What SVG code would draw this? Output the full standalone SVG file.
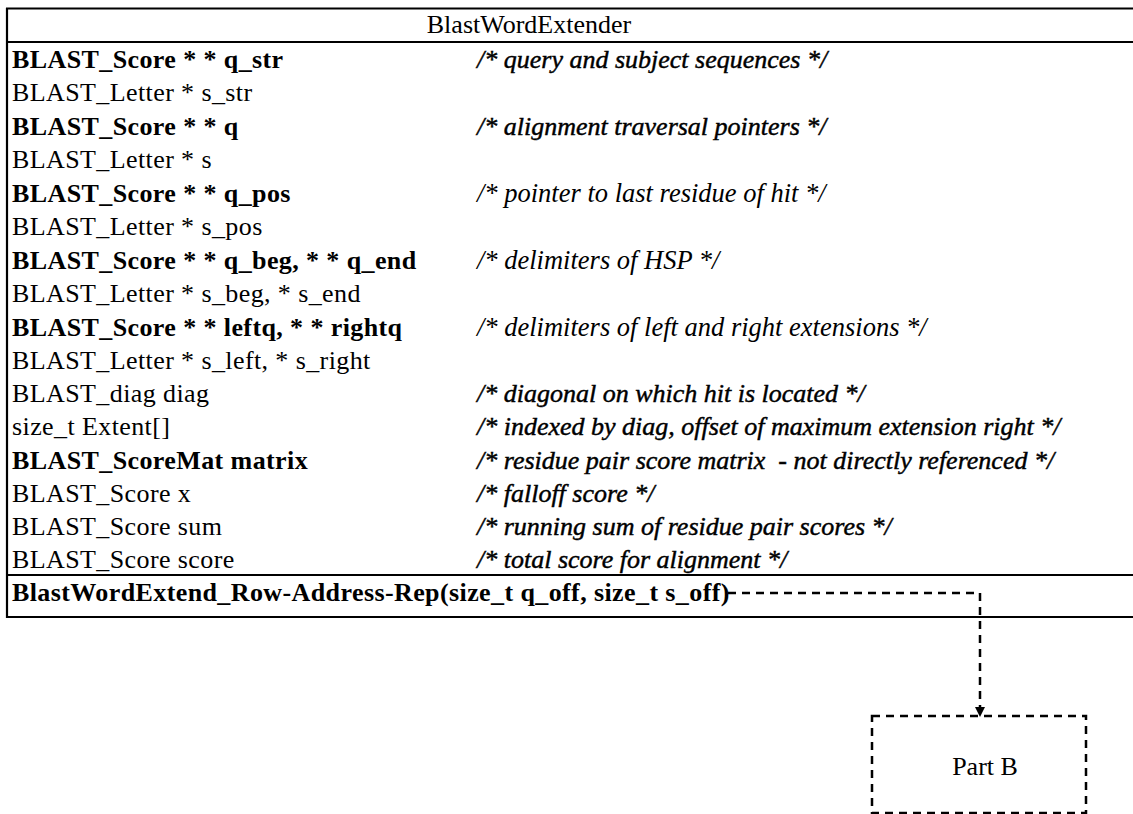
<svg xmlns="http://www.w3.org/2000/svg" width="1133" height="814" viewBox="0 0 1133 814">
  <style>
    .frame { stroke: #000; stroke-width: 2.2; fill: none; }
    .t { font-family: "Liberation Serif", "Times New Roman", serif; font-size: 26px; fill: #000; letter-spacing: 0.4px; }
    .title { letter-spacing: 0; }
    .b { font-weight: bold; }
    .c { font-family: "Liberation Serif", "Times New Roman", serif; font-size: 26.5px; font-style: italic; fill: #000; }
    .cw { font-size: 26px; stroke: #000; stroke-width: 0.45; }
    .dash { stroke: #000; stroke-width: 2.5; fill: none; stroke-dasharray: 8 6; }
  </style>
  <defs>
    <marker id="arrow" viewBox="0 0 10 10" refX="9" refY="5" markerWidth="10" markerHeight="10" markerUnits="userSpaceOnUse" orient="auto">
      <path d="M0,0 L10,5 L0,10 Z" fill="#000"/>
    </marker>
  </defs>
  <rect width="1133" height="814" fill="#fff"/>

  <!-- class box: BlastWordExtender -->
  <g id="blast-word-extender">
    <line class="frame" x1="6" y1="8.5" x2="1133" y2="8.5"/>
    <line class="frame" x1="6" y1="42" x2="1133" y2="42" stroke-width="2.6"/>
    <line class="frame" x1="6" y1="575" x2="1133" y2="575"/>
    <line class="frame" x1="6" y1="617" x2="1133" y2="617"/>
    <line class="frame" x1="7" y1="8" x2="7" y2="618"/>

    <text class="t title" x="529" y="33" text-anchor="middle">BlastWordExtender</text>

    <!-- attributes -->
    <text class="t b" x="12" y="67.5">BLAST_Score * * q_str</text>
    <text class="t" x="12" y="101">BLAST_Letter * s_str</text>
    <text class="t b" x="12" y="134.5">BLAST_Score * * q</text>
    <text class="t" x="12" y="168">BLAST_Letter * s</text>
    <text class="t b" x="12" y="201.5">BLAST_Score * * q_pos</text>
    <text class="t" x="12" y="235">BLAST_Letter * s_pos</text>
    <text class="t b" x="12" y="268.5">BLAST_Score * * q_beg, * * q_end</text>
    <text class="t" x="12" y="302">BLAST_Letter * s_beg, * s_end</text>
    <text class="t b" x="12" y="335.5">BLAST_Score * * leftq, * * rightq</text>
    <text class="t" x="12" y="368.5">BLAST_Letter * s_left, * s_right</text>
    <text class="t" x="12" y="402">BLAST_diag diag</text>
    <text class="t" x="12" y="435">size_t Extent[]</text>
    <text class="t b" x="12" y="468.5">BLAST_ScoreMat matrix</text>
    <text class="t" x="12" y="501.5">BLAST_Score x</text>
    <text class="t" x="12" y="534.5">BLAST_Score sum</text>
    <text class="t" x="12" y="567.5">BLAST_Score score</text>

    <!-- attribute comments -->
    <text class="c cw" x="477" y="67.5">/* query and subject sequences */</text>
    <text class="c cw" x="477" y="134.5">/* alignment traversal pointers */</text>
    <text class="c" x="477" y="201.5">/* pointer to last residue of hit */</text>
    <text class="c" x="477" y="268.5">/* delimiters of HSP */</text>
    <text class="c" x="477" y="335.5">/* delimiters of left and right extensions */</text>
    <text class="c cw" x="477" y="402">/* diagonal on which hit is located */</text>
    <text class="c cw" x="477" y="435">/* indexed by diag, offset of maximum extension right */</text>
    <text class="c cw" x="477" y="468.5">/* residue pair score matrix &#160;- not directly referenced */</text>
    <text class="c cw" x="477" y="501.5">/* falloff score */</text>
    <text class="c cw" x="477" y="534.5">/* running sum of residue pair scores */</text>
    <text class="c cw" x="477" y="567.5">/* total score for alignment */</text>

    <!-- operation -->
    <text class="t b" x="12" y="601">BlastWordExtend_Row-Address-Rep(size_t q_off, size_t s_off)</text>
  </g>

  <!-- dashed box: Part B -->
  <g id="part-b">
    <rect class="dash" x="872" y="716" width="214" height="97"/>
    <text class="t title" x="985" y="775" text-anchor="middle">Part B</text>
  </g>

  <!-- connectors -->
  <g id="connectors">
    <path class="dash" d="M728,593 H980 V716" marker-end="url(#arrow)"/>
  </g>
</svg>
